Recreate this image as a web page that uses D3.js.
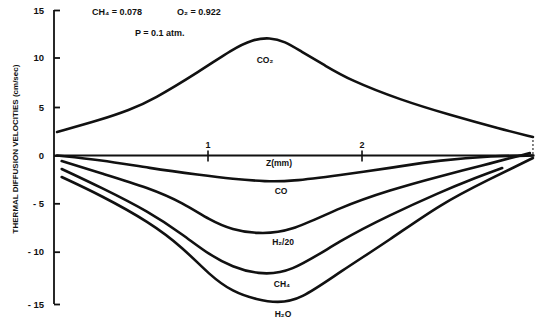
<!DOCTYPE html>
<html>
<head>
<meta charset="utf-8">
<script src="https://cdn.jsdelivr.net/npm/d3@7"></script>
<style>
  html, body { margin: 0; padding: 0; background: #fff; }
  svg { display: block; }
  text { font-family: "Liberation Sans", Arial, sans-serif; font-weight: bold; fill: #111; }
</style>
</head>
<body>
<svg id="chart" width="535" height="320"></svg>
<script>
// Distance above the burner, z (mm), and thermal diffusion velocity (cm/sec)
const zCO2 = [0.02, 0.30, 0.49, 0.64, 0.95, 1.16, 1.29, 1.40, 1.50, 1.60, 1.76, 1.92, 2.25, 2.57, 2.90, 3.11];
const vCO2 = [2.42, 3.66, 4.69, 5.71, 8.64, 10.89, 11.9, 12.1, 11.7, 10.68, 9.19, 7.73, 5.71, 4.18, 2.73, 1.91];

const zCO = [0.02, 0.30, 0.62, 0.95, 1.16, 1.38, 1.53, 1.86, 2.18, 2.51, 2.85, 3.11];
const vCO = [0, -0.47, -1.31, -2.04, -2.46, -2.72, -2.72, -2.04, -1.31, -0.47, -0.05, 0];

const zH2 = [0.05, 0.30, 0.62, 0.84, 1.01, 1.16, 1.32, 1.53, 1.86, 2.18, 2.51, 2.77, 3.09];
const vH2 = [-0.58, -1.83, -3.40, -4.97, -6.73, -7.76, -8.15, -8.0, -5.38, -3.61, -2.14, -1.10, 0.26];

const zCH4 = [0.05, 0.30, 0.62, 0.84, 1.01, 1.16, 1.32, 1.53, 1.86, 2.18, 2.51, 2.70, 2.91];
const vCH4 = [-1.41, -3.30, -5.90, -8.27, -10.32, -11.46, -12.15, -12.1, -8.79, -6.21, -3.82, -2.56, -1.31];

const zH2O = [0.05, 0.30, 0.62, 0.84, 1.01, 1.16, 1.32, 1.45, 1.60, 1.86, 2.18, 2.51, 2.83, 3.11];
const vH2O = [-2.25, -4.13, -6.94, -9.62, -12.23, -13.85, -14.6, -14.9, -14.6, -11.89, -8.79, -5.07, -2.46, -0.26];

const yTicks = [15, 10, 5, 0, -5, -10, -15];
const yTickLabels = ["15", "10", "5", "0", "- 5", "- 10", "- 15"];
const xTicks = [1, 2];
const xTickLabels = ["1", "2"];

const seriesNames = ["CO₂", "CO", "H₂/20", "CH₄", "H₂O"];

const svg = d3.select("#chart");

const x = d3.scaleLinear().domain([0, 3.12]).range([54, 534.5]);
// piecewise scale following the printed tick spacing
const y = d3.scaleLinear()
  .domain([-15, -10, -5, 0, 5, 10, 15])
  .range([304, 251.7, 203.3, 155.5, 107, 57.5, 10]);

const line = d3.line()
  .x(d => x(d[0]))
  .y(d => y(d[1]))
  .curve(d3.curveBasis);

const series = [
  { name: seriesNames[0], z: zCO2, v: vCO2, lx: 265, ly: 63 },
  { name: seriesNames[1], z: zCO,  v: vCO,  lx: 281, ly: 194 },
  { name: seriesNames[2], z: zH2,  v: vH2,  lx: 283, ly: 245 },
  { name: seriesNames[3], z: zCH4, v: vCH4, lx: 282, ly: 287 },
  { name: seriesNames[4], z: zH2O, v: vH2O, lx: 283, ly: 317 }
];

// Left axis with inward ticks
const yAxis = d3.axisLeft(y)
  .tickValues(yTicks)
  .tickSize(-6)
  .tickFormat((d, i) => yTickLabels[i]);

const gy = svg.append("g")
  .attr("transform", `translate(${x(0)},0)`)
  .call(yAxis);
gy.select(".domain").remove();
gy.selectAll(".tick line").attr("stroke", "#111").attr("stroke-width", 1.8);
gy.selectAll(".tick text")
  .attr("x", -10)
  .attr("font-size", 9.5)
  .attr("font-family", "'Liberation Sans', Arial, sans-serif")
  .attr("font-weight", "bold")
  .attr("fill", "#111");
svg.append("line")
  .attr("x1", x(0)).attr("x2", x(0))
  .attr("y1", y(15)).attr("y2", y(-15))
  .attr("stroke", "#111").attr("stroke-width", 1.8);

// Zero line serving as the z axis
svg.append("line")
  .attr("x1", x(0)).attr("x2", x(3.12))
  .attr("y1", y(0)).attr("y2", y(0))
  .attr("stroke", "#111").attr("stroke-width", 1.8);

const gx = svg.append("g").selectAll("g").data(xTicks).join("g")
  .attr("transform", d => `translate(${x(d)},${y(0)})`);
gx.append("line").attr("y1", -5).attr("y2", 6)
  .attr("stroke", "#111").attr("stroke-width", 1.6);
gx.append("text").attr("y", -8).attr("text-anchor", "middle")
  .attr("font-size", 9).text((d, i) => xTickLabels[i]);

svg.append("text")
  .attr("x", 279).attr("y", 166)
  .attr("text-anchor", "middle").attr("font-size", 8.5)
  .text("Z(mm)");

// Right-hand boundary mark
svg.append("line")
  .attr("x1", x(3.11)).attr("x2", x(3.11))
  .attr("y1", y(2.0)).attr("y2", y(0))
  .attr("stroke", "#333").attr("stroke-width", 1.2)
  .attr("stroke-dasharray", "2,2");

// Curves
svg.append("g").selectAll("path").data(series).join("path")
  .attr("d", s => line(s.z.map((z, i) => [z, s.v[i]])))
  .attr("fill", "none")
  .attr("stroke", "#111")
  .attr("stroke-width", 2.6)
  .attr("stroke-linecap", "round");

svg.append("g").selectAll("text").data(series).join("text")
  .attr("x", s => s.lx).attr("y", s => s.ly)
  .attr("text-anchor", "middle")
  .attr("font-size", 8.5)
  .text(s => s.name);

// Condition annotations
svg.append("text").attr("x", 92).attr("y", 15).attr("font-size", 9).text("CH₄ = 0.078");
svg.append("text").attr("x", 177).attr("y", 15).attr("font-size", 9).text("O₂ = 0.922");
svg.append("text").attr("x", 135).attr("y", 36).attr("font-size", 9).text("P = 0.1 atm.");

// Axis title
svg.append("text")
  .attr("transform", "translate(18,149) rotate(-90)")
  .attr("text-anchor", "middle")
  .attr("font-size", 8)
  .text("THERMAL DIFFUSION VELOCITIES (cm/sec)");
</script>
</body>
</html>
